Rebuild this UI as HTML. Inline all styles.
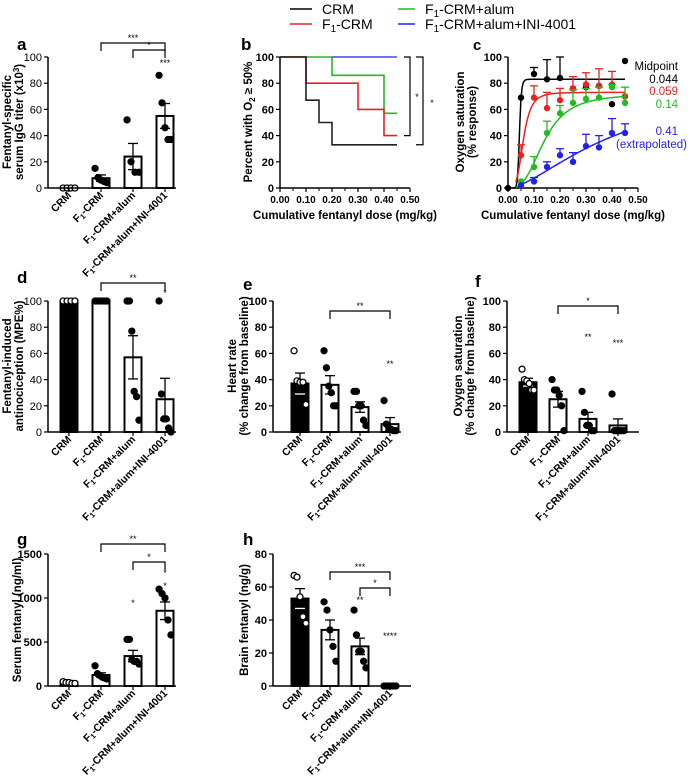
<!DOCTYPE html>
<html><head><meta charset="utf-8"><style>
html,body{margin:0;padding:0;background:#fff;}
svg{display:block;font-family:"Liberation Sans",Arial,sans-serif;}
</style></head><body>
<svg id="fig" width="691" height="778" viewBox="0 0 691 778" xmlns="http://www.w3.org/2000/svg">
<g id="legend" font-size="14">
<g><line x1="290" y1="9" x2="312" y2="9" stroke="#000" stroke-width="1.5"/><text x="322" y="14">CRM</text></g>
<g><line x1="290" y1="24" x2="312" y2="24" stroke="#e8231f" stroke-width="1.5"/><text x="322" y="29">F<tspan font-size="10" dy="3">1</tspan><tspan dy="-3">-CRM</tspan></text></g>
<g><line x1="398" y1="9" x2="415" y2="9" stroke="#22bb22" stroke-width="1.5"/><text x="425" y="14">F<tspan font-size="10" dy="3">1</tspan><tspan dy="-3">-CRM+alum</tspan></text></g>
<g><line x1="398" y1="24" x2="415" y2="24" stroke="#2222ee" stroke-width="1.5"/><text x="425" y="29">F<tspan font-size="10" dy="3">1</tspan><tspan dy="-3">-CRM+alum+INI-4001</tspan></text></g>
</g>
</svg>
<script>
// ---------- data ----------
const cats = ["CRM","F1-CRM","F1-CRM+alum","F1-CRM+alum+INI-4001"];
const aMeans=[0,7.5,24,55]; const aSems=[0,2.5,10,9.5];
const aPoints=[[0,0,0,0],[15,8,6,5,4],[52,20,12,12],[86,65,46,37,37]];
const aTicks=[0,20,40,60,80,100];
const dMeans=[100,100,57,25]; const dSems=[0,0,16.5,16];
const dPoints=[[100,100,100,100],[100,100,100,100,100,100],[100,100,77,31,27,9],[100,29,10,10,3,0]];
const eMeans=[37,36,19,6]; const eSems=[8,7,4,5];
const ePoints=[[62,39,38,38,21],[62,49,35,30,20,20],[31,31,20,20,9,5],[24,6,3,2,1,1]];
const fMeans=[38,25,10,5]; const fSems=[3,6,5,5];
const fPoints=[[48,40,39,37,32,32],[40,32,32,28,20,1],[31,15,5,5,1,1],[29,1,1,1,1,1]];
const gMeans=[40,125,340,855]; const gSems=[5,25,65,100];
const gPoints=[[50,40,40,30,30],[230,140,120,100,90,80],[530,530,300,280,280,250],[1100,1050,1000,750,580]];
const gTicks=[0,500,1000,1500];
const hMeans=[53,34,24,0]; const hSems=[6,6,5,0];
const hPoints=[[67,66,54,42,38],[51,46,34,24,15],[46,31,21,21,15,11],[0,0,0,0,0]];
const hTicks=[0,20,40,60,80];
const bDoseTicks=[0,0.1,0.2,0.3,0.4,0.5];
const bCRM=[[0,100],[0.10,67],[0.15,50],[0.20,33],[0.45,33]];
const bF1=[[0,100],[0.10,80],[0.30,60],[0.40,40],[0.45,40]];
const bAlum=[[0,100],[0.20,86],[0.40,57],[0.45,57]];
const bINI=[[0.20,100],[0.45,100]];
const cDoses=[0,0.05,0.10,0.15,0.20,0.25,0.30,0.35,0.40,0.45];
const cCRM=[0,69,87,83,84,76,77,78,64,97];
const cCRMerr=[0,0,92,98,100,0,0,0,0,0];
const cF1=[null,25,69,61,67,76,79,78,79,70];
const cF1err=[0,33,78,73,76,85,88,91,89,0];
const cAlum=[null,5,16,42,57,65,68,69,77,65];
const cAlumErr=[0,0,24,51,63,75,76,77,79,77];
const cINI=[null,2,5,16,25,20,32,31,42,42];
const cINIerr=[0,0,8,20,30,27,41,40,53,49];
const cFitTop=[83,73,72,80]; const cFitEC=[0.044,0.059,0.14,0.41]; const cFitH=[12,4,3,1.6];

// ---------- helpers ----------
const NS="http://www.w3.org/2000/svg"; const svg=document.getElementById('fig');
function mk(tag,attrs,parent,txt){const e=document.createElementNS(NS,tag);for(const k in attrs)e.setAttribute(k,attrs[k]);if(txt!==undefined)e.textContent=txt;(parent||svg).appendChild(e);return e;}
function grp(name,parent){const g=mk('g',{},parent);return g;}
function catLabel(g,c,x,y){const t=mk('text',{x:x,y:y,'font-size':'10.5','font-weight':'bold','text-anchor':'end',transform:`rotate(-45 ${x} ${y})`},g);
 if(c.startsWith('F1')){t.appendChild(document.createTextNode('F'));mk('tspan',{'font-size':'7.5',dy:'2'},t,'1');mk('tspan',{dy:'-2'},t,c.slice(2));}else t.textContent=c;return t;}
function yAxis(g,ax,top,bot,max,ticks,bold){mk('line',{x1:ax,y1:top,x2:ax,y2:bot,stroke:'#000','stroke-width':1.5},g);
 ticks.forEach(v=>{const y=bot-v/max*(bot-top);mk('line',{x1:ax-4,y1:y,x2:ax,y2:y,stroke:'#000','stroke-width':1.2},g);
  const t=mk('text',{x:ax-6,y:y+4,'font-size':'11','text-anchor':'end','font-weight':bold?'bold':'normal'},g,String(v));});}
function yTitle(g,x,cy,lines){lines.forEach((l,i)=>{const t=mk('text',{x:x+i*12,y:cy,'font-size':'11.5','font-weight':'bold','text-anchor':'middle',transform:`rotate(-90 ${x+i*12} ${cy})`},g);t.innerHTML=l;});}
function bracket(g,x1,x2,y,lbl){mk('path',{d:`M${x1},${y+8}V${y}H${x2}V${y+8}`,fill:'none',stroke:'#000','stroke-width':1.2},g);mk('text',{x:(x1+x2)/2,y:y-2,'font-size':'9','text-anchor':'middle'},g,lbl);}
function star(g,x,y,lbl){mk('text',{x:x,y:y,'font-size':'9','text-anchor':'middle'},g,lbl);}

function barPanel(p){const g=grp(p.name);const sc=v=>p.bot-v/p.max*(p.bot-p.top);
 mk('text',{x:p.lx,y:p.ly,'font-size':'17','font-weight':'bold'},g,p.letter);
 yAxis(g,p.ax,p.top,p.bot,p.max,p.ticks,p.bold);
 p.means.forEach((m,i)=>{const cx=p.x0+i*p.sp;const bg=grp('bar-'+(i+1),g);
  const filled=(i===0&&p.firstFilled);
  mk('rect',{x:cx-p.bw/2,y:sc(m),width:p.bw,height:p.bot-sc(m),fill:filled?'#000':'#fff',stroke:'#000','stroke-width':2},bg);
  if(p.sems[i]>0){const yu=sc(m+p.sems[i]),yl=sc(Math.max(0,m-p.sems[i]));const col=filled?'#fff':'#000';
   mk('line',{x1:cx,y1:yu,x2:cx,y2:yl,stroke:'#000','stroke-width':1.3},bg);
   mk('line',{x1:cx-5,y1:yu,x2:cx+5,y2:yu,stroke:'#000','stroke-width':1.3},bg);
   mk('line',{x1:cx-5,y1:yl,x2:cx+5,y2:yl,stroke:col,'stroke-width':1.3},bg);}
  const pts=p.points[i];const n=pts.length;
  pts.forEach((v,j)=>{const off=n>1?(j/(n-1)-0.5)*p.bw*0.7:0;const open=(i===0&&p.openFirst);
   const c=mk('circle',{cx:cx+off,cy:sc(v),r:3,fill:open?'#fff':'#000',stroke:'#000','stroke-width':1.3},bg);
   });
  mk('line',{x1:cx,y1:p.bot,x2:cx,y2:p.bot+4,stroke:'#000','stroke-width':1.2},g);
  const cl=catLabel(g,cats[i],cx+3,p.bot+8);});
 mk('line',{x1:p.ax,y1:p.bot,x2:p.axEnd,y2:p.bot,stroke:'#000','stroke-width':1.5},g);
 yTitle(g,p.tx,p.tcy,p.title);
 (p.brackets||[]).forEach(b=>bracket(g,p.x0+b[0]*p.sp,p.x0+b[1]*p.sp,b[2],b[3]));
 (p.stars||[]).forEach(s=>star(g,p.x0+s[0]*p.sp,s[1],s[2]));}

barPanel({name:'panel-a',letter:'a',lx:17,ly:50,ax:48,top:57,bot:188,max:100,ticks:aTicks,means:aMeans,sems:aSems,points:aPoints,x0:69,sp:32,bw:17,axEnd:176,openFirst:true,firstFilled:false,
 tx:11,tcy:122,title:['Fentanyl-specific','serum IgG titer (x10<tspan font-size="8" dy="-4">3</tspan><tspan dy="4">)</tspan>'],brackets:[[1,3,43,'***'],[2,3,50,'*']],stars:[[3,66,'***']]});
barPanel({name:'panel-d',letter:'d',lx:17,ly:283,ax:48,top:301,bot:432,max:100,ticks:aTicks,means:dMeans,sems:dSems,points:dPoints,x0:69,sp:32,bw:17,axEnd:176,openFirst:true,firstFilled:true,
 tx:11,tcy:366,title:['Fentanyl-induced','antinociception (MPE%)'],brackets:[[1,3,283,'**']],stars:[[3,296,'*']]});
barPanel({name:'panel-e',letter:'e',lx:243,ly:290,ax:273,top:301,bot:432,max:100,ticks:aTicks,bold:true,means:eMeans,sems:eSems,points:ePoints,x0:300,sp:30,bw:17,axEnd:401,openFirst:true,firstFilled:true,
 tx:236,tcy:366,title:['Heart rate','(% change from baseline)'],brackets:[[1,3,311,'**']],stars:[[3,367,'**']]});
barPanel({name:'panel-f',letter:'f',lx:475,ly:287,ax:507,top:301,bot:432,max:100,ticks:aTicks,bold:true,means:fMeans,sems:fSems,points:fPoints,x0:528,sp:30,bw:17,axEnd:639,openFirst:true,firstFilled:true,
 tx:462,tcy:366,title:['Oxygen saturation','(% change from baseline)'],brackets:[[1,3,306,'*']],stars:[[2,340,'**'],[3,346,'***']]});
barPanel({name:'panel-g',letter:'g',lx:17,ly:545,ax:48,top:554,bot:686,max:1500,ticks:gTicks,bold:true,means:gMeans,sems:gSems,points:gPoints,x0:69,sp:32,bw:17,axEnd:176,openFirst:true,firstFilled:false,
 tx:21,tcy:620,title:['Serum fentanyl (ng/ml)'],brackets:[[1,3,544,'**'],[2,3,562,'*']],stars:[[2,606,'*'],[3,576,'*'],[3,589,'*']]});
barPanel({name:'panel-h',letter:'h',lx:243,ly:545,ax:273,top:554,bot:686,max:80,ticks:hTicks,bold:true,means:hMeans,sems:hSems,points:hPoints,x0:300,sp:30,bw:17,axEnd:411,openFirst:true,firstFilled:true,
 tx:248,tcy:620,title:['Brain fentanyl (ng/g)'],brackets:[[1,3,572,'***'],[2,3,588,'*']],stars:[[2,603,'**'],[3,639,'****']]});

// ---------- dose axis helper ----------
function doseAxis(g,ax,right,top,bot,ticksY){const sx=d=>ax+d/0.5*(right-ax);
 mk('line',{x1:ax,y1:bot,x2:right,y2:bot,stroke:'#000','stroke-width':1.5},g);
 bDoseTicks.forEach(d=>{mk('line',{x1:sx(d),y1:bot,x2:sx(d),y2:bot+4,stroke:'#000','stroke-width':1.2},g);
  const t=mk('text',{x:sx(d),y:bot+15,'font-size':'10','font-weight':'bold','text-anchor':'middle'},g,d.toFixed(2));});
 for(let d=0.05;d<0.5;d+=0.1)mk('line',{x1:sx(d),y1:bot,x2:sx(d),y2:bot+3,stroke:'#000','stroke-width':1},g);
 yAxis(g,ax,top,bot,100,ticksY,true);
 const t=mk('text',{x:(ax+right)/2,y:bot+31,'font-size':'11.5','font-weight':'bold','text-anchor':'middle'},g,'Cumulative fentanyl dose (mg/kg)');
 return sx;}

// ---------- panel b ----------
(function(){const g=grp('panel-b');const top=57,bot=188;
 mk('text',{x:241,y:50,'font-size':'17','font-weight':'bold'},g,'b');
 const sx=doseAxis(g,280,410,top,bot,aTicks);const sy=v=>bot-v/100*(bot-top);
 yTitle(g,252,122,['Percent with O<tspan font-size="8" dy="3">2</tspan><tspan dy="-3"> ≥ 50%</tspan>']);
 function step(data,col,name){let d=`M${sx(data[0][0])},${sy(data[0][1])}`;for(let i=1;i<data.length;i++){d+=`H${sx(data[i][0])}V${sy(data[i][1])}`;}
  const p=mk('path',{d:d,fill:'none',stroke:col,'stroke-width':1.6},g);}
 step(bAlum,'#22bb22','survival-alum');step(bF1,'#e8231f','survival-f1-crm');step(bCRM,'#222','survival-crm');step(bINI,'#4444ee','survival-ini4001');
 mk('path',{d:`M404,${sy(100)}H410V${sy(40)}H404`,fill:'none',stroke:'#000','stroke-width':1.2},g);
 star(g,417,100,'*');
 mk('path',{d:`M416,${sy(100)}H423V${sy(33)}H416`,fill:'none',stroke:'#000','stroke-width':1.2},g);
 star(g,432,106,'*');})();

// ---------- panel c ----------
(function(){const g=grp('panel-c');const top=57,bot=188;
 mk('text',{x:473,y:50,'font-size':'15','font-weight':'bold'},g,'c');
 const sx=doseAxis(g,508,638,top,bot,aTicks);const sy=v=>bot-v/100*(bot-top);
 yTitle(g,464,122,['Oxygen saturation','(% response)']);
 const series=[[cCRM,cCRMerr,'#000','crm'],[cF1,cF1err,'#e8231f','f1-crm'],[cAlum,cAlumErr,'#22bb22','alum'],[cINI,cINIerr,'#2222ee','ini4001']];
 series.forEach((s,k)=>{const sg=grp('series-'+s[3],g);
  let d='';const start=k===0?0:(k===3?0.05:0.03);
  for(let i=0;i<=100;i++){const x=start+(0.45-start)*i/100;const y=cFitTop[k]*Math.pow(x,cFitH[k])/(Math.pow(x,cFitH[k])+Math.pow(cFitEC[k],cFitH[k]));d+=(i?'L':'M')+sx(x).toFixed(2)+','+sy(y).toFixed(2);}
  mk('path',{d:d,fill:'none',stroke:s[2],'stroke-width':1.5},sg);
  s[0].forEach((v,i)=>{if(v===null)return;const x=sx(cDoses[i]);
   if(s[1][i]>v){mk('line',{x1:x,y1:sy(v),x2:x,y2:sy(s[1][i]),stroke:s[2],'stroke-width':1.3},sg);mk('line',{x1:x-4,y1:sy(s[1][i]),x2:x+4,y2:sy(s[1][i]),stroke:s[2],'stroke-width':1.3},sg);}
   const c=mk('circle',{cx:x,cy:sy(v),r:3.2,fill:s[2]},sg);});});
 const lab=grp('midpoint-labels',g);
 [['Midpoint','#000',70],['0.044','#000',83],['0.059','#e8231f',95],['0.14','#22bb22',108],['0.41','#2222ee',135],['(extrapolated)','#2222ee',148]].forEach(r=>mk('text',{x:r[0]==='(extrapolated)'?687:678,y:r[2],'font-size':'11.5','text-anchor':'end',fill:r[1]},lab,r[0]));})();
</script>
</body></html>
